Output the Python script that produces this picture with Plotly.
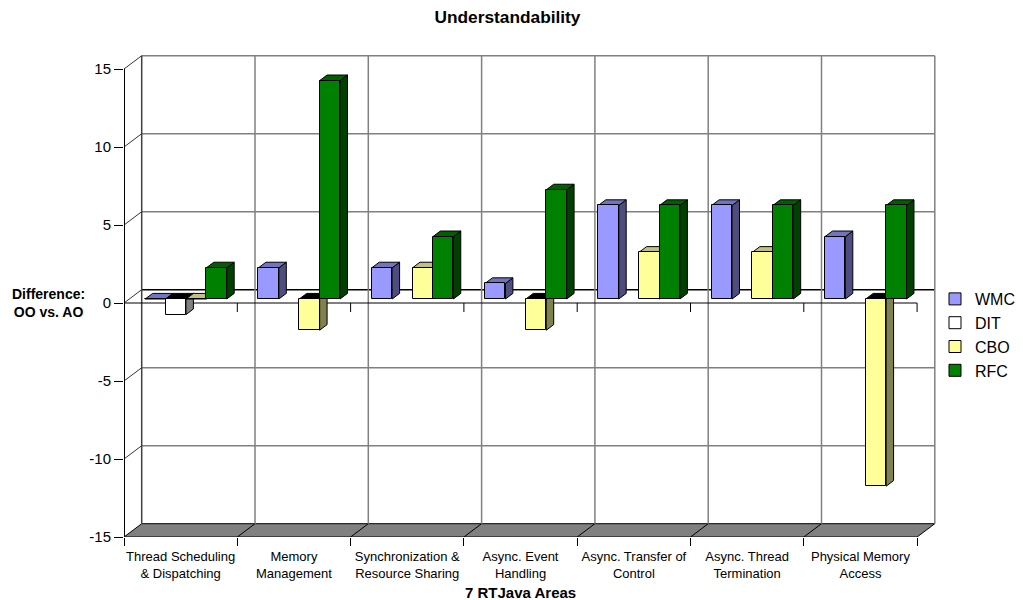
import plotly.graph_objects as go

# ---------------- data ----------------
categories = ["Thread Scheduling<br>& Dispatching", "Memory<br>Management",
              "Synchronization &<br>Resource Sharing", "Async. Event<br>Handling",
              "Async. Transfer of<br>Control", "Async. Thread<br>Termination",
              "Physical Memory<br>Access"]
series_names = ["WMC", "DIT", "CBO", "RFC"]
wmc = [0, 2, 2, 1, 6, 6, 4]
dit = [-1, None, None, None, None, None, None]
cbo = [0, -2, 2, -2, 3, 3, -12]
rfc = [2, 14, 4, 7, 6, 6, 6]
y_ticks = [-15, -10, -5, 0, 5, 10, 15]
y_tick_labels = ["-15", "-10", "-5", "0", "5", "10", "15"]
chart_title = "Understandability"
x_title = "7 RTJava Areas"
y_title = "Difference:<br>OO vs. AO"

series_values = [wmc, dit, cbo, rfc]
front_colors = ["#9999FF", "#FFFFFF", "#FFFF99", "#008000"]
side_colors = ["#4D4D80", "#808080", "#808050", "#004000"]
top_colors = ["#7373BF", "#BFBFBF", "#C0C080", "#006000"]
neg_top_color = "#000000"

# ---------------- geometry ----------------
OFF = 8                 # page body margin
W, H = 1023 - OFF, 600 - OFF
L, R, T, B = 124 - OFF, 0, 32, 63
PLOT_W = W - L - R
PLOT_H = H - T - B
PLOT_BOTTOM = T + PLOT_H
PX_CAT = 113.3          # pixels per category
PX_UNIT = 15.6          # pixels per value unit
x_max = PLOT_W / PX_CAT
y_min = -15
y_max = y_min + PLOT_H / PX_UNIT
DX = 17.7 / PX_CAT      # depth offset (category units)
DY = 13.3 / PX_UNIT     # depth offset (value units)
F1, F2 = 0.30, 0.72     # bar front / back depth fractions
BW = 0.18               # bar width (category units)
n = len(categories)
FONT = "Arial, Liberation Sans, sans-serif"

fig = go.Figure()

# bars: side, top, front per series (drawn in series order)
for j, (name, vals) in enumerate(zip(series_names, series_values)):
    side_x, side_y = [], []
    pos_tx, pos_ty, neg_tx, neg_ty = [], [], [], []
    xs, ys = [], []
    fa_x, fa_y = F1 * DX, F1 * DY
    fb_x, fb_y = F2 * DX, F2 * DY
    for i, v in enumerate(vals):
        if v is None:
            continue
        xc = i + 0.5 + (j - 1.5) * BW
        xl, xr = xc - BW / 2, xc + BW / 2
        if v != 0:
            side_x += [xr + fa_x, xr + fb_x, xr + fb_x, xr + fa_x, xr + fa_x, None]
            side_y += [fa_y, fb_y, fb_y + v, fa_y + v, fa_y, None]
        lv = max(v, 0)
        tx = [xl + fa_x, xl + fb_x, xr + fb_x, xr + fa_x, xl + fa_x, None]
        ty = [fa_y + lv, fb_y + lv, fb_y + lv, fa_y + lv, fa_y + lv, None]
        if v < 0:
            neg_tx += tx; neg_ty += ty
        else:
            pos_tx += tx; pos_ty += ty
        xs.append(xc + fa_x)
        ys.append(v)
    if side_x:
        fig.add_trace(go.Scatter(x=side_x, y=side_y, mode="lines", fill="toself",
                                 fillcolor=side_colors[j], line=dict(color="black", width=1),
                                 showlegend=False, hoverinfo="skip", zorder=3 * j))
    if pos_tx:
        fig.add_trace(go.Scatter(x=pos_tx, y=pos_ty, mode="lines", fill="toself",
                                 fillcolor=top_colors[j], line=dict(color="black", width=1),
                                 showlegend=False, hoverinfo="skip", zorder=3 * j + 1))
    if neg_tx:
        fig.add_trace(go.Scatter(x=neg_tx, y=neg_ty, mode="lines", fill="toself",
                                 fillcolor=neg_top_color, line=dict(color="black", width=1),
                                 showlegend=False, hoverinfo="skip", zorder=3 * j + 1))
    fig.add_trace(go.Bar(x=xs, y=ys, base=F1 * DY, width=BW, name=name,
                         marker=dict(color=front_colors[j], line=dict(color="black", width=1)),
                         xaxis="x", yaxis="y", zorder=3 * j + 2, hoverinfo="skip"))

# ---------------- chart walls / floor ----------------
shapes = []
def line(x0, y0, x1, y1, color="black", width=1):
    shapes.append(dict(type="line", xref="x", yref="y", x0=x0, y0=y0, x1=x1, y1=y1,
                       line=dict(color=color, width=width), layer="below"))

# floor
shapes.append(dict(type="path", xref="x", yref="y", layer="below",
                   path=f"M0,{y_min} L{n},{y_min} L{n + DX},{y_min + DY} L{DX},{y_min + DY} Z",
                   fillcolor="#808080", line=dict(color="black", width=1)))
for i in range(1, n):
    line(i, y_min, i + DX, y_min + DY)
# back wall horizontal gridlines + left wall diagonals
for v in y_ticks:
    if v == y_min:
        continue
    if v == 0:
        line(DX, DY, n + DX, DY, "black", 1.5)
    else:
        line(DX, v + DY, n + DX, v + DY, "#808080", 1.5)
    line(0, v, DX, v + DY, "#333333", 1)
# back wall vertical lines
for i in range(n + 1):
    line(i + DX, y_min + DY, i + DX, 15 + DY, "#404040" if i == 0 else "#808080", 1.5)
# front zero line and its ticks
line(0, 0, n, 0, "black", 1)
for i in range(n + 1):
    line(i, 0, i, -9 / PX_UNIT, "black", 1)
# front value axis
line(0, y_min, 0, 15, "black", 2)

fig.update_layout(
    width=W, height=H, autosize=False,
    margin=dict(l=L, r=R, t=T, b=B, pad=0),
    paper_bgcolor="white", plot_bgcolor="white",
    barmode="overlay", bargap=0,
    font=dict(family=FONT, color="black"),
    shapes=shapes,
    title=dict(text=chart_title, x=(507.5 - OFF) / W, xanchor="center",
               y=1 - (17 - OFF) / H, yanchor="middle",
               font=dict(size=17.3, family=FONT, color="black", weight="bold")),
    xaxis=dict(range=[0, x_max], tickvals=list(range(n + 1)), ticktext=[""] * (n + 1),
               ticks="outside", ticklen=8, tickcolor="black", tickwidth=1,
               showgrid=False, zeroline=False, showline=False, fixedrange=True),
    xaxis2=dict(range=[0, x_max], overlaying="x", side="bottom", matches="x",
                tickvals=[i + 0.5 for i in range(n)], ticktext=categories,
                ticks="", ticklabelstandoff=10,
                tickfont=dict(size=13, family=FONT, color="black"),
                showgrid=False, zeroline=False, showline=False, fixedrange=True),
    yaxis=dict(range=[y_min, y_max], tickvals=y_ticks, ticktext=y_tick_labels,
               ticks="outside", ticklen=9,
               tickcolor="black", tickwidth=1, tickfont=dict(size=15, family=FONT, color="black"),
               showgrid=False, zeroline=False, showline=False, fixedrange=True),
    legend=dict(x=(927 - L) / PLOT_W, xanchor="left",
                y=(PLOT_BOTTOM - 274) / PLOT_H, yanchor="top",
                font=dict(size=16, family=FONT, color="black"), bgcolor="rgba(0,0,0,0)",
                itemwidth=30, tracegroupgap=0),
    annotations=[
        dict(text=y_title, xref="paper", x=(48 - OFF - L) / PLOT_W, xanchor="center",
             yref="y", y=0, yanchor="middle", showarrow=False, align="center",
             font=dict(size=14, family=FONT, color="black", weight="bold")),
        dict(text=x_title, xref="x", x=n / 2, xanchor="center",
             yref="paper", y=-(592 - OFF - PLOT_BOTTOM) / PLOT_H, yanchor="middle",
             showarrow=False,
             font=dict(size=15, family=FONT, color="black", weight="bold")),
    ],
)
# trace on xaxis2 so its category tick labels are drawn
fig.add_trace(go.Scatter(x=[0.5], y=[None], xaxis="x2", yaxis="y", showlegend=False,
                         hoverinfo="skip"))

fig.write_html("out.html")
